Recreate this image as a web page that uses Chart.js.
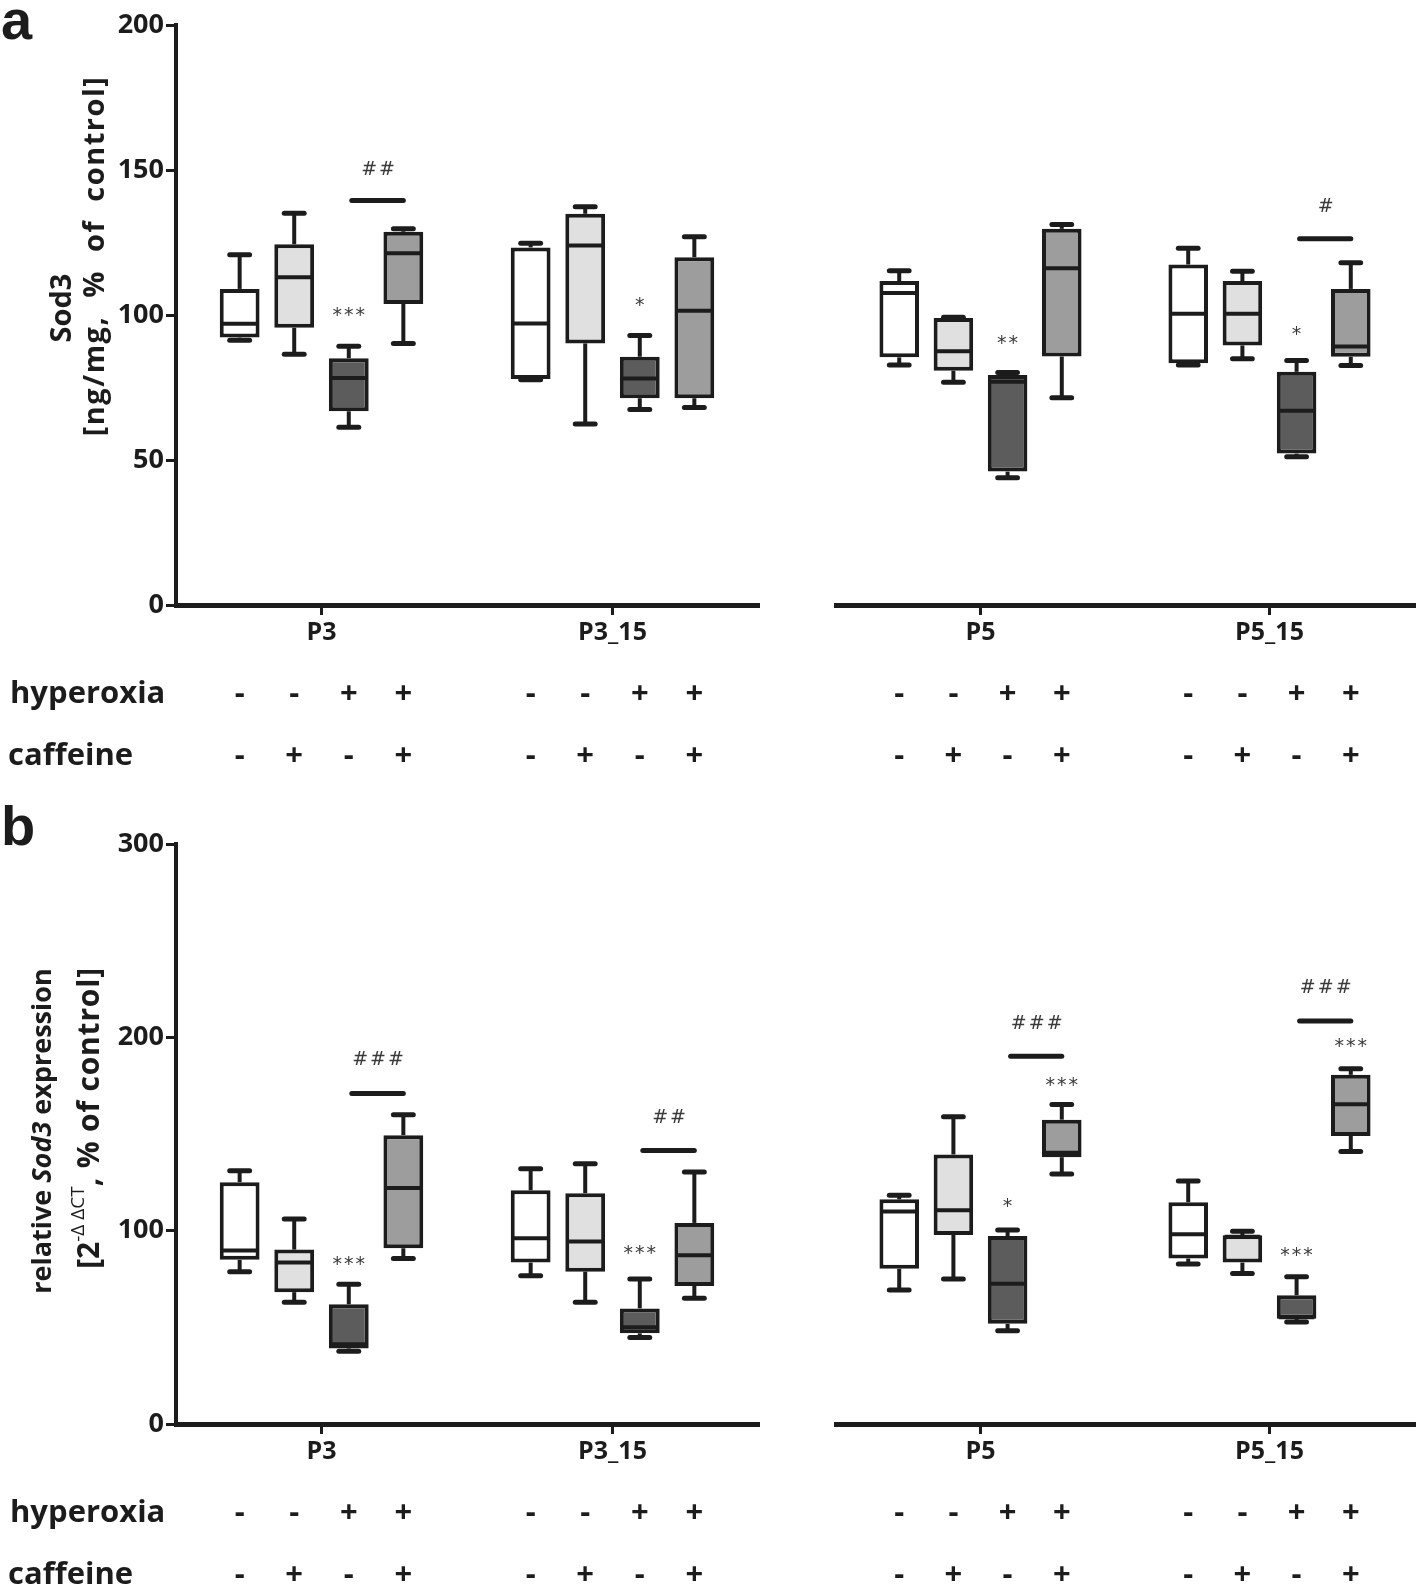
<!DOCTYPE html>
<html>
<head>
<meta charset="utf-8">
<script src="https://cdn.jsdelivr.net/npm/chart.js@4.4.1/dist/chart.umd.min.js"></script>
<style>
  body { margin: 0; background: #fff; width: 1418px; height: 1593px; position: relative; overflow: hidden; }
  canvas { position: absolute; }
</style>
</head>
<body>
<canvas id="aLeft"></canvas>
<canvas id="aRight"></canvas>
<canvas id="bLeft"></canvas>
<canvas id="bRight"></canvas>
<script>
// groups and treatment rows
const leftGroups = ['P3', 'P3_15'];
const rightGroups = ['P5', 'P5_15'];
const treatmentNames = ['control', 'caffeine', 'hyperoxia', 'hyperoxia + caffeine'];
const hyperoxiaRow = ['-', '-', '+', '+'];
const caffeineRow = ['-', '+', '-', '+'];

// panel a: Sod3 protein, [min, q1, median, q3, max] for P3, P3_15, P5, P5_15
const proteinControl = [[91.3, 92.2, 97, 109, 120.8], [77.7, 77.9, 97.1, 123.3, 124.7], [82.8, 85.4, 107.6, 111.7, 115.3], [82.8, 83.4, 100.4, 117.4, 123]];
const proteinCaffeine = [[86.5, 95.6, 113, 124.4, 135.1], [62.4, 90.2, 124, 134.9, 137.3], [76.8, 80.8, 87.5, 99, 99.2], [84.9, 89.5, 100.4, 111.7, 115.1]];
const proteinHyperoxia = [[61.3, 66.8, 78.3, 85.1, 89.2], [67.4, 71.3, 78.1, 85.6, 92.9], [43.9, 46, 77, 79.3, 80.2], [51.1, 52.2, 67, 80.4, 84.3]];
const proteinHyperoxiaCaffeine = [[90.2, 103.8, 121.3, 128.7, 129.7], [68.1, 71.3, 101.5, 119.9, 127], [71.5, 85.7, 116.1, 129.7, 131.2], [82.6, 85.6, 89.1, 109, 118]];

// panel b: relative Sod3 expression, same layout
const mrnaControl = [[78.8, 84.9, 89.8, 125.1, 131], [76.7, 83.5, 96.1, 120.9, 132], [69.3, 80.3, 109.9, 116.2, 118.3], [82.8, 85.6, 98.2, 114.7, 125.7]];
const mrnaCaffeine = [[63, 68.2, 83.5, 90.2, 106], [63, 78.8, 94.4, 119.4, 134.6], [75, 97.8, 110.5, 139.4, 158.9], [77.8, 83.5, 96.8, 97.6, 99.7]];
const mrnaHyperoxia = [[37.6, 39.1, 41.2, 61.9, 72.3], [44.8, 46.9, 50, 59.8, 75], [48.2, 51.8, 72.5, 97.2, 100.4], [52.8, 54.5, 55.2, 66.6, 76.1]];
const mrnaHyperoxiaCaffeine = [[85.6, 90.9, 122.1, 149.4, 160], [65.1, 71.4, 87.3, 104, 130.4], [129.3, 138, 140.3, 157.4, 165.2], [141, 149, 165.4, 180.6, 183.8]];

// significance marks: box index within group, text, value
const proteinStars = [
  { group: 'P3', box: 2, text: '***', y: 99.5 },
  { group: 'P3_15', box: 2, text: '*', y: 103 },
  { group: 'P5', box: 2, text: '**', y: 90 },
  { group: 'P5_15', box: 2, text: '*', y: 93 }
];
const proteinHashes = [
  { group: 'P3', text: '##', y: 139.5, textY: 150 },
  { group: 'P5_15', text: '#', y: 126.3, textY: 137.3 }
];
const mrnaStars = [
  { group: 'P3', box: 2, text: '***', y: 82 },
  { group: 'P3_15', box: 2, text: '***', y: 88 },
  { group: 'P5', box: 2, text: '*', y: 112 },
  { group: 'P5', box: 3, text: '***', y: 175 },
  { group: 'P5_15', box: 2, text: '***', y: 87 },
  { group: 'P5_15', box: 3, text: '***', y: 195 }
];
const mrnaHashes = [
  { group: 'P3', text: '###', y: 171, textY: 188 },
  { group: 'P3_15', text: '##', y: 141.5, textY: 158 },
  { group: 'P5', text: '###', y: 190.2, textY: 207 },
  { group: 'P5_15', text: '###', y: 208.5, textY: 225.5 }
];

const ink = '#1c1c1c';
const boxFills = ['#ffffff', '#e0e0e0', '#5c5c5c', '#9d9d9d'];
const sans = '"Open Sans", "DejaVu Sans", sans-serif';

function line(ctx, x1, y1, x2, y2) {
  ctx.beginPath();
  ctx.moveTo(x1, y1);
  ctx.lineTo(x2, y2);
  ctx.stroke();
}

// draws rotated text made of runs with different fonts
function drawRuns(ctx, runs, cx, cy) {
  let total = 0;
  runs.forEach(r => {
    ctx.font = r.font;
    ctx.letterSpacing = (r.ls || 0) + 'px';
    r.w = ctx.measureText(r.text).width;
    total += r.w;
  });
  ctx.save();
  ctx.translate(cx, cy);
  ctx.rotate(-Math.PI / 2);
  ctx.textBaseline = 'middle';
  ctx.textAlign = 'left';
  ctx.fillStyle = ink;
  let x = -total / 2;
  runs.forEach(r => {
    ctx.font = r.font;
    ctx.letterSpacing = (r.ls || 0) + 'px';
    ctx.fillText(r.text, x, r.dy || 0);
    x += r.w;
  });
  ctx.restore();
  ctx.letterSpacing = '0px';
}

const boxPlugin = {
  id: 'boxes',
  afterDatasetsDraw(chart, args, opts) {
    const ctx = chart.ctx;
    const y = chart.scales.y;
    const groups = chart.data.labels;
    ctx.save();
    ctx.strokeStyle = ink;
    chart.data.datasets.forEach((ds, d) => {
      chart.getDatasetMeta(d).data.forEach((bar, i) => {
        const [min, q1, med, q3, max] = ds.stats[i];
        const x = bar.x, w = bar.width, cap = w * 0.5;
        ctx.lineCap = 'butt';
        ctx.lineWidth = 4;
        line(ctx, x, y.getPixelForValue(q3), x, y.getPixelForValue(max));
        line(ctx, x, y.getPixelForValue(q1), x, y.getPixelForValue(min));
        line(ctx, x - w / 2 + 2, y.getPixelForValue(med), x + w / 2 - 2, y.getPixelForValue(med));
        ctx.lineCap = 'round';
        ctx.lineWidth = 5;
        line(ctx, x - cap / 2, y.getPixelForValue(max), x + cap / 2, y.getPixelForValue(max));
        line(ctx, x - cap / 2, y.getPixelForValue(min), x + cap / 2, y.getPixelForValue(min));
      });
    });

    // significance
    ctx.fillStyle = '#3a3a3a';
    ctx.textAlign = 'center';
    ctx.textBaseline = 'middle';
    ctx.font = '19px "DejaVu Sans", sans-serif';
    ctx.letterSpacing = '2px';
    (opts.stars || []).forEach(s => {
      const i = groups.indexOf(s.group);
      if (i < 0) return;
      const bar = chart.getDatasetMeta(s.box).data[i];
      ctx.fillText(s.text, bar.x + 1, y.getPixelForValue(s.y));
    });
    (opts.hashes || []).forEach(h => {
      const i = groups.indexOf(h.group);
      if (i < 0) return;
      const x1 = chart.getDatasetMeta(2).data[i].x;
      const x2 = chart.getDatasetMeta(3).data[i].x;
      ctx.lineWidth = 5;
      ctx.lineCap = 'round';
      line(ctx, x1 + 3, y.getPixelForValue(h.y), x2, y.getPixelForValue(h.y));
      ctx.fillText(h.text, (x1 + x2) / 2 + 3, y.getPixelForValue(h.textY));
    });
    ctx.letterSpacing = '0px';

    // treatment rows under the axis
    const bottom = chart.chartArea.bottom;
    ctx.fillStyle = ink;
    ctx.font = 'bold 31px ' + sans;
    chart.data.datasets.forEach((ds, d) => {
      chart.getDatasetMeta(d).data.forEach(bar => {
        ctx.fillText(hyperoxiaRow[d], bar.x, bottom + 89);
        ctx.fillText(caffeineRow[d], bar.x, bottom + 151);
      });
    });
    if (opts.rowLabels) {
      ctx.textAlign = 'left';
      ctx.font = 'bold 31px ' + sans;
      ctx.fillText('hyperoxia', 10, bottom + 89);
      ctx.fillText('caffeine', 8, bottom + 151);
    }
    if (opts.letter) {
      ctx.textAlign = 'left';
      ctx.textBaseline = 'alphabetic';
      ctx.font = 'bold 56px "Liberation Sans", Arial, sans-serif';
      ctx.fillText(opts.letter.text, 1, opts.letter.y);
    }
    (opts.titles || []).forEach(t => drawRuns(ctx, t.runs, t.x, t.y));
    ctx.restore();
  }
};

function boxChart(id, top, height, padTop, left, width, groups, offset, sets, yMax, yStep, extra) {
  const canvas = document.getElementById(id);
  canvas.width = width;
  canvas.height = height;
  canvas.style.left = left + 'px';
  canvas.style.top = top + 'px';
  const isLeft = offset === 0;
  const datasets = sets.map((s, d) => {
    const stats = s.slice(offset, offset + 2);
    return {
      label: treatmentNames[d],
      data: stats.map(v => [v[1], v[3]]),
      stats: stats,
      backgroundColor: boxFills[d],
      borderColor: ink,
      borderWidth: 4,
      borderSkipped: false,
      categoryPercentage: 0.75,
      barPercentage: 0.73
    };
  });
  return new Chart(canvas, {
    type: 'bar',
    data: { labels: groups, datasets: datasets },
    plugins: [boxPlugin],
    options: {
      responsive: false,
      animation: false,
      devicePixelRatio: 1,
      layout: {
        padding: {
          top: padTop,
          bottom: height - padTop - 580 - 60,
          left: isLeft ? 0 : 36,
          right: isLeft ? width - 758 : 4
        }
      },
      plugins: {
        legend: { display: false },
        tooltip: { enabled: false },
        boxes: extra
      },
      scales: {
        x: {
          afterFit: s => { s.height = 60; },
          grid: { offset: false, drawOnChartArea: false, tickLength: 10, lineWidth: 3, color: ink },
          border: { width: 5, color: ink },
          ticks: { color: ink, padding: 3, font: { family: sans, size: 25, weight: 'bold' } }
        },
        y: {
          display: isLeft,
          min: 0,
          max: yMax,
          afterFit: s => { s.width = isLeft ? 176 : 0; },
          grid: { drawOnChartArea: false, tickLength: 10, lineWidth: 3, color: ink },
          border: { width: 4, color: ink },
          ticks: { stepSize: yStep, color: ink, padding: 2, font: { family: sans, size: 27, weight: 'bold' } }
        }
      }
    }
  });
}

const proteinSets = [proteinControl, proteinCaffeine, proteinHyperoxia, proteinHyperoxiaCaffeine];
const mrnaSets = [mrnaControl, mrnaCaffeine, mrnaHyperoxia, mrnaHyperoxiaCaffeine];
const bold = s => 'bold ' + s + 'px ' + sans;

boxChart('aLeft', 0, 800, 25, 0, 770, leftGroups, 0, proteinSets, 200, 50, {
  stars: proteinStars, hashes: proteinHashes, rowLabels: true,
  letter: { text: 'a', y: 39 },
  titles: [
    { x: 63, y: 308, runs: [{ text: 'Sod3', font: bold(29) }] },
    { x: 96, y: 256, runs: [{ text: '[ng/mg,  %  of  control]', font: bold(29), ls: 1.5 }] }
  ]
});
boxChart('aRight', 0, 800, 25, 800, 618, rightGroups, 2, proteinSets, 200, 50, {
  stars: proteinStars, hashes: proteinHashes
});
boxChart('bLeft', 779, 814, 65, 0, 770, leftGroups, 0, mrnaSets, 300, 100, {
  stars: mrnaStars, hashes: mrnaHashes, rowLabels: true,
  letter: { text: 'b', y: 66 },
  titles: [
    { x: 43, y: 352, runs: [
      { text: 'relative ', font: bold(27) },
      { text: 'Sod3', font: 'italic ' + bold(27) },
      { text: ' expression', font: bold(27) }
    ] },
    { x: 90, y: 339, runs: [
      { text: '[2', font: bold(30) },
      { text: '-\u0394 \u0394CT', font: '19px ' + sans, dy: -11 },
      { text: ', % of control]', font: bold(30), ls: 0.8 }
    ] }
  ]
});
boxChart('bRight', 779, 814, 65, 800, 618, rightGroups, 2, mrnaSets, 300, 100, {
  stars: mrnaStars, hashes: mrnaHashes
});
</script>
</body>
</html>
